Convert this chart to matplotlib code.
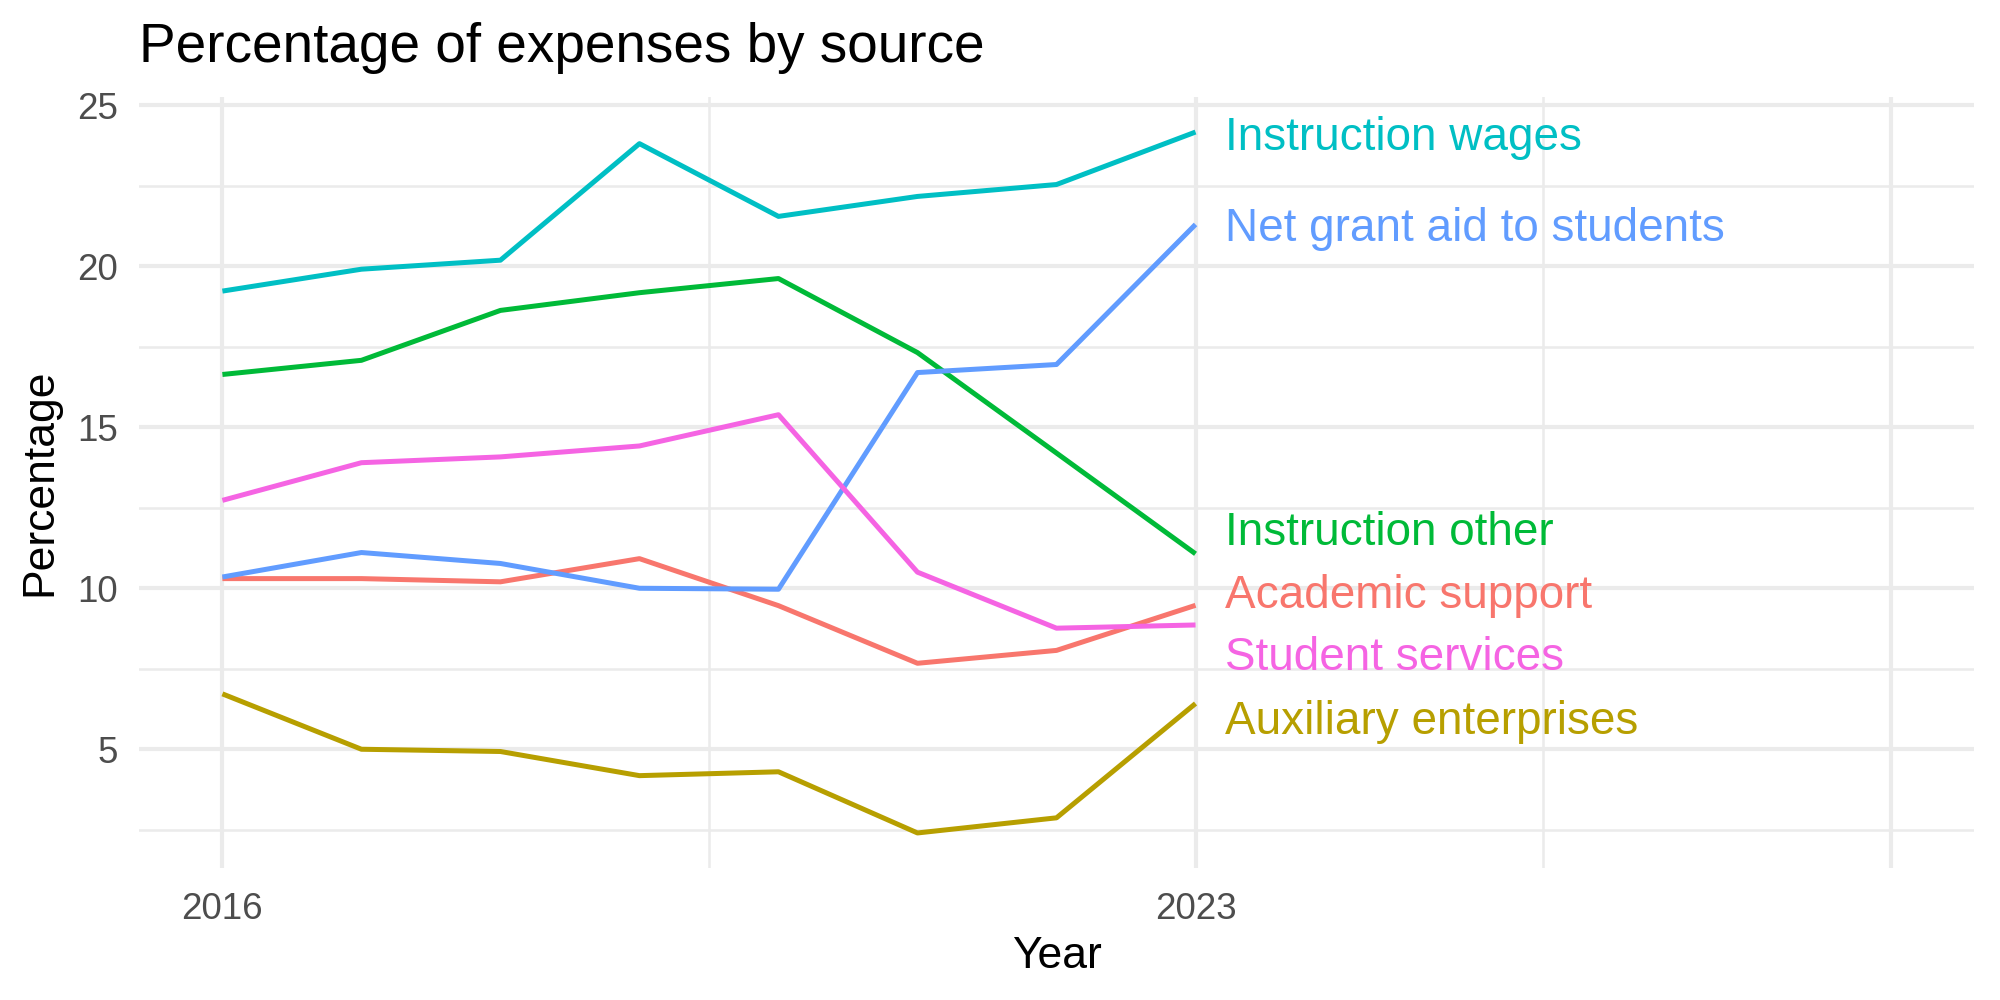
import matplotlib
matplotlib.use("Agg")
import matplotlib.pyplot as plt
import numpy as np

years = [2016, 2017, 2018, 2019, 2020, 2021, 2022, 2023]

academic_support = [10.30, 10.30, 10.20, 10.92, 9.46, 7.67, 8.07, 9.47]
auxiliary_enterprises = [6.72, 5.00, 4.93, 4.18, 4.30, 2.40, 2.87, 6.42]
instruction_other = [16.64, 17.08, 18.63, 19.18, 19.62, 17.32, 14.20, 11.07]
instruction_wages = [19.23, 19.91, 20.19, 23.81, 21.55, 22.17, 22.54, 24.17]
net_grant_aid = [10.35, 11.11, 10.77, 10.00, 9.97, 16.70, 16.95, 21.30]
student_services = [12.73, 13.90, 14.08, 14.42, 15.39, 10.50, 8.76, 8.86]

series_names = ["Academic support", "Auxiliary enterprises", "Instruction other",
                "Instruction wages", "Net grant aid to students", "Student services"]
series_values = [academic_support, auxiliary_enterprises, instruction_other,
                 instruction_wages, net_grant_aid, student_services]
colors = ["#F8766D", "#B79F00", "#00BA38", "#00BFC4", "#619CFF", "#F564E3"]

# label y positions after repelling so they do not overlap
label_y = [9.76, 5.84, 11.73, 23.98, 21.17, 7.83]

x_breaks = [2016, 2023, 2028]
x_break_labels = ["2016", "2023", ""]
x_minor = [2019.5, 2025.5]
y_breaks = [5, 10, 15, 20, 25]
y_minor = [2.5, 7.5, 12.5, 17.5, 22.5]

plt.rcParams["font.family"] = ["Liberation Sans", "DejaVu Sans"]

fig = plt.figure(figsize=(20, 10), dpi=100)
ax = fig.add_axes([139 / 2000, 1 - 868 / 1000, (1974 - 139) / 2000, (868 - 97) / 1000])

grid = "#EBEBEB"
for y in y_minor:
    ax.axhline(y, color=grid, lw=1.8, zorder=0)
for x in x_minor:
    ax.axvline(x, color=grid, lw=1.8, zorder=0)
for y in y_breaks:
    ax.axhline(y, color=grid, lw=3.0, zorder=0)
for x in x_breaks:
    ax.axvline(x, color=grid, lw=3.0, zorder=0)

for name, vals, col, ly in zip(series_names, series_values, colors, label_y):
    ax.plot(years, vals, color=col, lw=3.6, solid_capstyle="butt", zorder=2)
    ax.text(years[-1] + 0.21, ly, name, color=col, fontsize=33,
            ha="left", va="center", zorder=3)

all_vals = np.concatenate([np.array(v) for v in series_values])
ymin, ymax = all_vals.min(), all_vals.max()
pad = 0.05 * (ymax - ymin)
ax.set_ylim(ymin - pad, ymax + pad)
xpad = 0.05 * (x_breaks[-1] - years[0])
ax.set_xlim(years[0] - xpad, x_breaks[-1] + xpad)

ax.set_xticks(x_breaks)
ax.set_xticklabels(x_break_labels)
ax.set_yticks(y_breaks)
ax.tick_params(axis="both", length=0, labelsize=26.5, labelcolor="#4D4D4D")
ax.tick_params(axis="x", pad=17)
ax.tick_params(axis="y", pad=15)
for s in ax.spines.values():
    s.set_visible(False)

ax.set_xlabel("Year", fontsize=32, labelpad=7)
ax.set_ylabel("Percentage", fontsize=32, labelpad=12)
fig.text(139 / 2000, 1 - 62 / 1000, "Percentage of expenses by source",
         fontsize=39.5, ha="left", va="baseline")

fig.savefig("out.png", dpi=100, facecolor="white")
